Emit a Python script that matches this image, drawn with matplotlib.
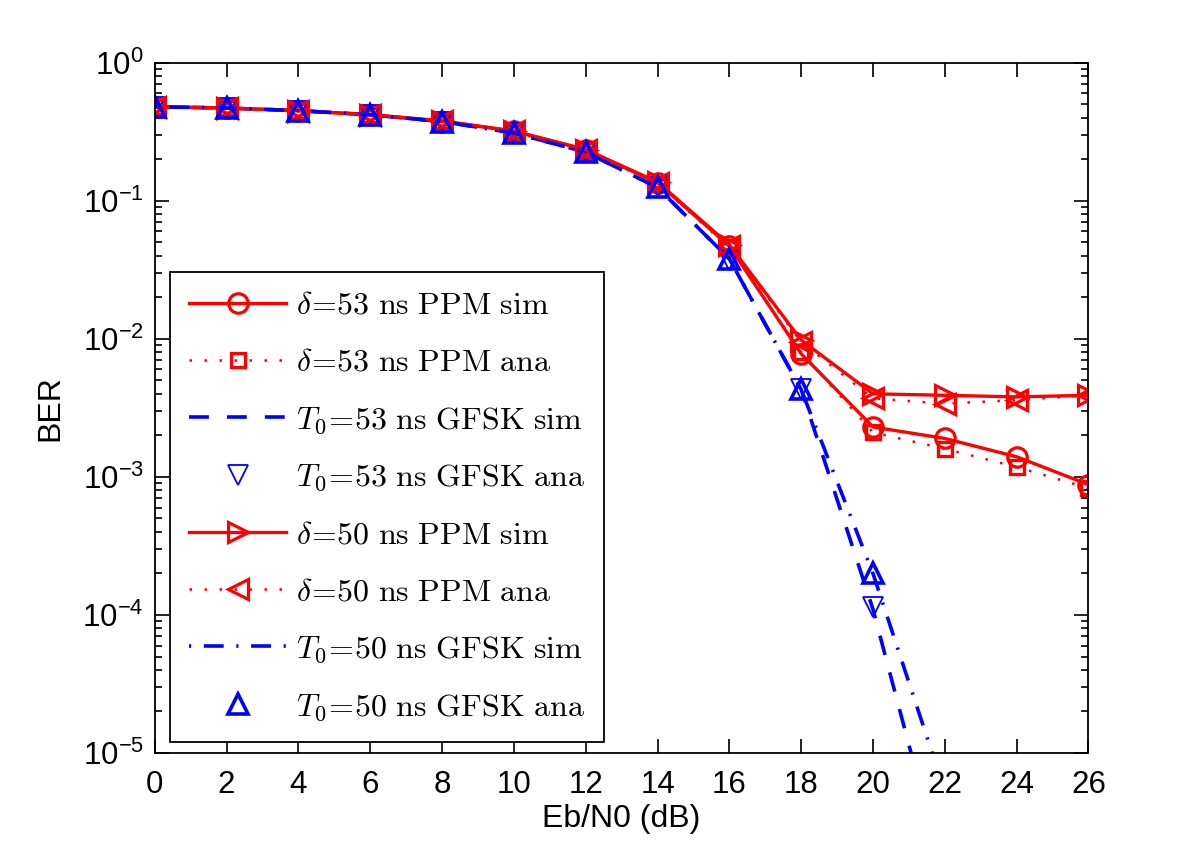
import matplotlib
matplotlib.use("Agg")
import matplotlib.pyplot as plt
from matplotlib.ticker import LogLocator, NullFormatter

plt.rcParams['font.family'] = ['Liberation Sans', 'DejaVu Sans']
plt.rcParams['mathtext.fontset'] = 'cm'

# ---- data ----
ebn0 = [0, 2, 4, 6, 8, 10, 12, 14, 16, 18, 20, 22, 24, 26]
ebn0_gfsk_sim = [0, 2, 4, 6, 8, 10, 12, 14, 16, 18, 20, 22]
ebn0_gfsk_ana = [0, 2, 4, 6, 8, 10, 12, 14, 16, 18, 20]

ppm53_sim = [0.48, 0.47, 0.45, 0.42, 0.375, 0.32, 0.235, 0.135, 0.047, 0.0078, 0.0023, 0.0019, 0.0014, 0.00088]
ppm53_ana = [0.48, 0.47, 0.45, 0.42, 0.375, 0.315, 0.232, 0.133, 0.046, 0.0080, 0.0021, 0.0016, 0.00118, 0.00083]
ppm50_sim = [0.48, 0.47, 0.45, 0.42, 0.38, 0.32, 0.235, 0.137, 0.048, 0.0098, 0.0040, 0.0039, 0.0038, 0.0039]
ppm50_ana = [0.48, 0.47, 0.45, 0.42, 0.38, 0.318, 0.233, 0.135, 0.047, 0.0095, 0.0037, 0.0034, 0.0036, 0.0039]
gfsk53_sim = [0.48, 0.47, 0.45, 0.42, 0.375, 0.31, 0.225, 0.125, 0.038, 0.0043, 0.00011, 1.2e-6]
gfsk50_sim = [0.48, 0.47, 0.45, 0.42, 0.375, 0.31, 0.225, 0.125, 0.038, 0.0043, 0.0002, 5.3e-6]
gfsk53_ana = [0.48, 0.47, 0.45, 0.42, 0.375, 0.31, 0.225, 0.125, 0.037, 0.0043, 0.000115]
gfsk50_ana = [0.48, 0.47, 0.45, 0.42, 0.375, 0.31, 0.225, 0.125, 0.038, 0.0043, 0.0002]

labels = [
    r'$\delta\!=\!53\ \mathrm{ns\ PPM\ sim}$',
    r'$\delta\!=\!53\ \mathrm{ns\ PPM\ ana}$',
    r'$T_0\!=\!53\ \mathrm{ns\ GFSK\ sim}$',
    r'$T_0\!=\!53\ \mathrm{ns\ GFSK\ ana}$',
    r'$\delta\!=\!50\ \mathrm{ns\ PPM\ sim}$',
    r'$\delta\!=\!50\ \mathrm{ns\ PPM\ ana}$',
    r'$T_0\!=\!50\ \mathrm{ns\ GFSK\ sim}$',
    r'$T_0\!=\!50\ \mathrm{ns\ GFSK\ ana}$',
]

fig = plt.figure(figsize=(12, 8.48), dpi=100)
ax = fig.add_axes([0.129, 0.112, 0.778, 0.814])

R = (1, 0, 0)
B = (0, 0, 1)
dot = (0, (1, 5))

ax.plot(ebn0, ppm53_sim, '-', color=R, lw=2.4, marker='o', ms=14, mfc='none', mew=2.3, label=labels[0])
ax.plot(ebn0, ppm53_ana, color=R, ls=dot, lw=1.8, marker='s', ms=10, mfc='none', mew=2.4, label=labels[1])
ax.plot(ebn0_gfsk_sim, gfsk53_sim, color=B, ls=(0, (5.5, 5)), lw=2.6, label=labels[2])
ax.plot(ebn0_gfsk_ana, gfsk53_ana, ls='none', color=B, marker='v', ms=14.5, mfc='none', mew=1.3, label=labels[3])
ax.plot(ebn0, ppm50_sim, '-', color=R, lw=2.4, marker='>', ms=14, mfc='none', mew=2.3, label=labels[4])
ax.plot(ebn0, ppm50_ana, color=R, ls=dot, lw=1.8, marker='<', ms=14, mfc='none', mew=2.3, label=labels[5])
ax.plot(ebn0_gfsk_sim, gfsk50_sim, color=B, ls=(0, (0.6, 3.5, 5.5, 3.5)), lw=2.6, label=labels[6])
ax.plot(ebn0_gfsk_ana, gfsk50_ana, ls='none', color=B, marker='^', ms=15, mfc='none', mew=2.6, label=labels[7])

ax.set_yscale('log')
ax.set_xlim(0, 26)
ax.set_ylim(1e-5, 1)
ax.set_xticks(range(0, 27, 2))
ax.yaxis.set_major_locator(LogLocator(base=10, numticks=10))
ax.yaxis.set_minor_locator(LogLocator(base=10, subs=range(2, 10), numticks=50))
ax.yaxis.set_minor_formatter(NullFormatter())

ax.tick_params(which='both', direction='in', top=True, right=True, labelsize=22.5, width=1.2)
ax.tick_params(which='major', length=10)
ax.tick_params(axis='x', which='major', pad=12)
ax.tick_params(axis='y', which='major', pad=8)
ax.tick_params(which='minor', length=5)
for s in ax.spines.values():
    s.set_linewidth(1.3)

ax.set_xlabel('Eb/N0 (dB)', fontsize=23, labelpad=3)
ax.set_ylabel('BER', fontsize=23, labelpad=12)

leg = ax.legend(loc='lower left', bbox_to_anchor=(0.016, 0.016), borderaxespad=0,
                fontsize=23, handlelength=3.05, handletextpad=0.3, labelspacing=0.845,
                borderpad=0.6, fancybox=False, framealpha=1, edgecolor='black')
leg.get_frame().set_linewidth(1.3)

fig.savefig('out.png', dpi=100)
